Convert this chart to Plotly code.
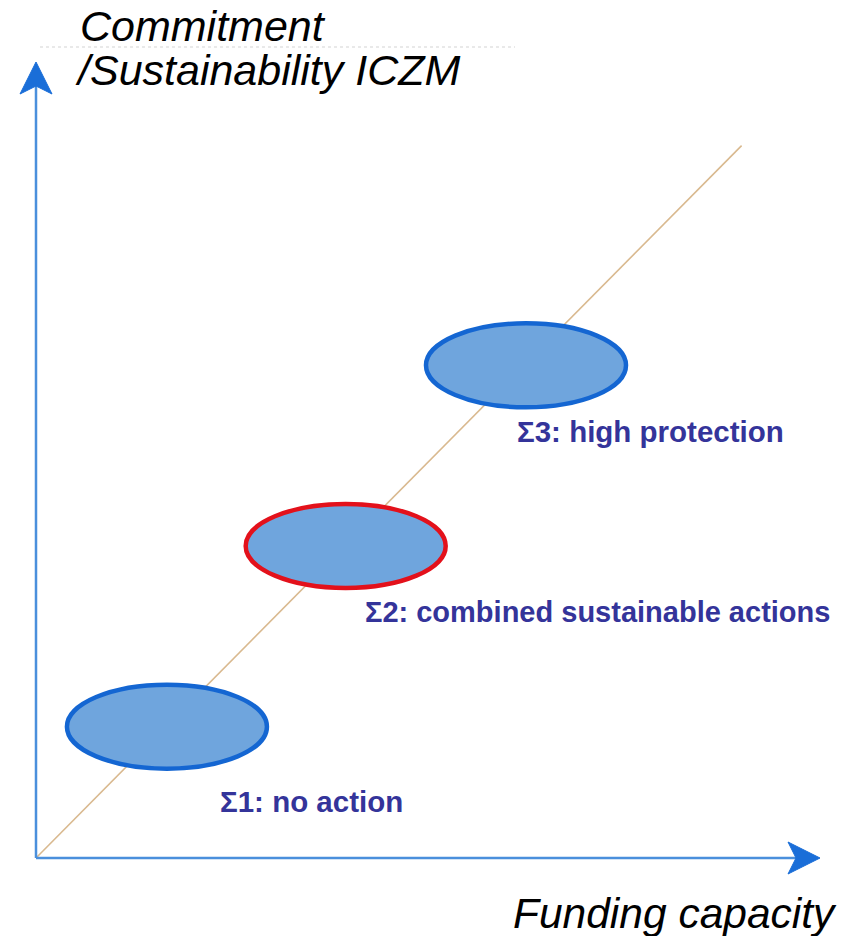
import plotly.graph_objects as go

# ---- data (axis units: 0 = origin, 10 = arrow tip) ----
scenario_labels = ["Σ1: no action", "Σ2: combined sustainable actions", "Σ3: high protection"]
funding = [1.67, 3.95, 6.25]          # x: funding capacity
commitment = [1.65, 3.92, 6.19]       # y: commitment / sustainability
trend_x = [0.0, 9.0]
trend_y = [0.0, 8.95]
axis_max_x = 10.0
axis_max_y = 10.0
x_title = "Funding capacity"
y_title_lines = ["Commitment", "/Sustainability ICZM"]

# ---- layout / styles ----
W, H = 841, 936
ox, oy = 36, 858          # origin pixel
tipx, tipy = 820, 62      # arrow tips pixel
sx = (tipx - ox) / axis_max_x
sy = (oy - tipy) / axis_max_y
xr = [-ox / sx, (W - ox) / sx]
yr = [-(H - oy) / sy, oy / sy]

def ux(p):  # pixels -> x units
    return p / sx

def uy(p):
    return p / sy

edge_colors = ["#1466d2", "#e3111b", "#1466d2"]
fill_color = "#6fa5dd"
label_color = "#34349a"
axis_color = "#4a8fdc"
head_color = "#1a6ed8"
rx, ry = ux(100), uy(42)
label_dx = [51, 17, -11]     # pixel offsets of label left edge from ellipse centre
label_dy = [-75, -66, -66]
label_sizes = [29.5, 29, 29.5]

fig = go.Figure()

# trend line
fig.add_trace(go.Scatter(x=trend_x, y=trend_y, mode="lines",
                         line=dict(color="#d9b98f", width=1.6), hoverinfo="skip"))

shapes = []
for i, (fx, cy) in enumerate(zip(funding, commitment)):
    shapes.append(dict(type="circle", xref="x", yref="y",
                       x0=fx - rx, x1=fx + rx, y0=cy - ry, y1=cy + ry,
                       fillcolor=fill_color, line=dict(color=edge_colors[i], width=4.5)))

# axes lines
shapes.append(dict(type="line", xref="x", yref="y", x0=0, y0=0, x1=axis_max_x - ux(20), y1=0,
                   line=dict(color=axis_color, width=2.5)))
shapes.append(dict(type="line", xref="x", yref="y", x0=0, y0=0, x1=0, y1=axis_max_y - uy(20),
                   line=dict(color=axis_color, width=2.5)))

# arrowheads (concave back)
def path(pts):
    return "M " + " L ".join(f"{a},{b}" for a, b in pts) + " Z"

yh = [(0, axis_max_y), (ux(-16), axis_max_y - uy(32)), (0, axis_max_y - uy(24)),
      (ux(16), axis_max_y - uy(32))]
xh = [(axis_max_x, 0), (axis_max_x - ux(32), uy(16)), (axis_max_x - ux(24), 0),
      (axis_max_x - ux(32), uy(-16))]
for pts in (yh, xh):
    shapes.append(dict(type="path", xref="x", yref="y", path=path(pts),
                       fillcolor=head_color, line=dict(color=head_color, width=1)))

# faint dashed artifact line under title
shapes.append(dict(type="line", xref="paper", yref="paper", x0=40 / W, x1=515 / W,
                   y0=1 - 47 / H, y1=1 - 47 / H,
                   line=dict(color="#e2e2e2", width=1.5, dash="dot")))

annotations = []
for i, (fx, cy) in enumerate(zip(funding, commitment)):
    annotations.append(dict(x=fx + ux(label_dx[i]), y=cy + uy(label_dy[i]), xref="x", yref="y",
                            text=f"<b>{scenario_labels[i]}</b>", showarrow=False,
                            xanchor="left", yanchor="middle",
                            font=dict(family="Liberation Sans, Arial", size=label_sizes[i],
                                      color=label_color)))

annotations.append(dict(x=78 / W, y=1 - 0 / H, xref="paper", yref="paper", xanchor="left", yanchor="top",
                        text=f"<i>{y_title_lines[0]}</i>", showarrow=False,
                        font=dict(family="Liberation Sans, Arial", size=43, color="#000")))
annotations.append(dict(x=73 / W, y=1 - 44 / H, xref="paper", yref="paper", xanchor="left", yanchor="top",
                        text=f"<i>{y_title_lines[1]}</i>", showarrow=False,
                        font=dict(family="Liberation Sans, Arial", size=43, color="#000")))
annotations.append(dict(x=839 / W, y=0, xref="paper", yref="paper", xanchor="right", yanchor="bottom",
                        yshift=-3, text=f"<i>{x_title}</i>", showarrow=False,
                        font=dict(family="Liberation Sans, Arial", size=42.5, color="#000")))

fig.update_layout(width=W, height=H, margin=dict(l=0, r=0, t=0, b=0),
                  paper_bgcolor="white", plot_bgcolor="white", showlegend=False,
                  shapes=shapes, annotations=annotations,
                  xaxis=dict(range=xr, visible=False, fixedrange=True),
                  yaxis=dict(range=yr, visible=False, fixedrange=True))

fig.write_html("out.html", config={"displayModeBar": False},
               post_script="document.body.style.margin='0';document.body.style.overflow='hidden';")
